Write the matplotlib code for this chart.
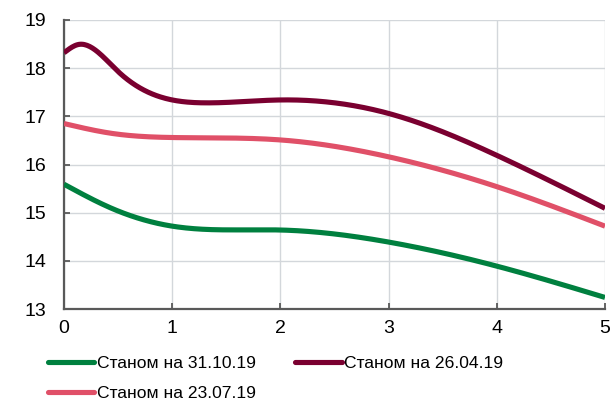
import numpy as np
import matplotlib
matplotlib.use("Agg")
import matplotlib.pyplot as plt

plt.rcParams['font.family'] = ['Liberation Sans', 'DejaVu Sans']

# Data
x_green = [0, 0.43, 1, 2, 3, 4, 5]
y_green = [15.59, 15.10, 14.72, 14.64, 14.39, 13.89, 13.24]

x_darkred = [0, 0.13, 0.5, 1, 1.3, 2, 3, 4, 5]
y_darkred = [18.32, 18.49, 17.93, 17.34, 17.28, 17.34, 17.06, 16.19, 15.09]

x_pink = [0, 0.43, 1, 2, 3, 4, 5]
y_pink = [16.85, 16.65, 16.56, 16.51, 16.16, 15.54, 14.72]

labels = ["Станом на 31.10.19", "Станом на 26.04.19", "Станом на 23.07.19"]
colors = ["#00803F", "#7A0030", "#E05068"]
xticks = [0, 1, 2, 3, 4, 5]
yticks = [13, 14, 15, 16, 17, 18, 19]


def smooth(x, y, n=400):
    """Natural cubic spline through the given points (smoothed line rendering)."""
    x = np.asarray(x, float)
    y = np.asarray(y, float)
    k = len(x)
    h = np.diff(x)
    A = np.zeros((k, k))
    b = np.zeros(k)
    A[0, 0] = 1
    A[-1, -1] = 1
    for i in range(1, k - 1):
        A[i, i - 1] = h[i - 1]
        A[i, i] = 2 * (h[i - 1] + h[i])
        A[i, i + 1] = h[i]
        b[i] = 3 * ((y[i + 1] - y[i]) / h[i] - (y[i] - y[i - 1]) / h[i - 1])
    c = np.linalg.solve(A, b)
    xs = np.linspace(x[0], x[-1], n)
    idx = np.clip(np.searchsorted(x, xs) - 1, 0, k - 2)
    dx = xs - x[idx]
    bb = (y[idx + 1] - y[idx]) / h[idx] - h[idx] * (2 * c[idx] + c[idx + 1]) / 3
    dd = (c[idx + 1] - c[idx]) / (3 * h[idx])
    ys = y[idx] + bb * dx + c[idx] * dx**2 + dd * dx**3
    return xs, ys


fig = plt.figure(figsize=(6.12, 4.03), dpi=100)
ax = fig.add_axes([64 / 612, 1 - 309 / 403, (605 - 64) / 612, (309 - 20) / 403])

series = [(x_green, y_green), (x_darkred, y_darkred), (x_pink, y_pink)]
handles = []
for (xv, yv), c, lab in zip(series, colors, labels):
    sx, sy = smooth(xv, yv)
    h, = ax.plot(sx, sy, color=c, lw=3.7, label=lab, solid_capstyle='butt', zorder=3)
    handles.append(h)

ax.set_xlim(0, 5)
ax.set_ylim(13, 19)
ax.set_xticks(xticks)
ax.set_yticks(yticks)
ax.grid(True, color='#D3D7DB', lw=1.0, zorder=0)
for s in ['top', 'right']:
    ax.spines[s].set_visible(False)
for s in ['left', 'bottom']:
    ax.spines[s].set_color('#595959')
    ax.spines[s].set_linewidth(1.6)
ax.tick_params(axis='both', direction='in', length=4, width=1.3, color='#595959',
               labelsize=14, labelcolor='#000000')
ax.tick_params(axis='y', pad=13)
ax.tick_params(axis='x', pad=8)

order = [0, 2, 1]
leg = fig.legend([handles[i] for i in order], [labels[i] for i in order],
                 loc='upper left', bbox_to_anchor=(48 / 612, 1 - 356 / 403),
                 ncol=2, frameon=False, fontsize=12.6, handlelength=2.65,
                 handletextpad=0.15, columnspacing=2.25, labelspacing=0.85,
                 borderpad=0, borderaxespad=0)
for lh in leg.get_lines():
    lh.set_solid_capstyle('round')

fig.savefig('out.png', dpi=100)
